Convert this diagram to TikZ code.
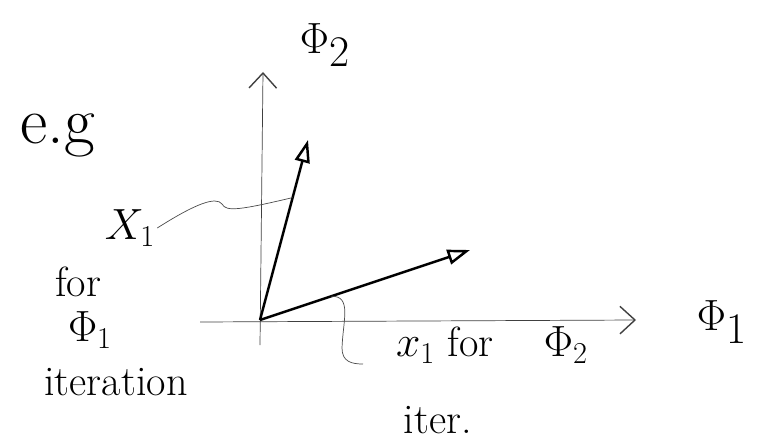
\documentclass[tikz,border=0pt]{standalone}
\usepackage{amsmath}
\usetikzlibrary{arrows.meta, positioning, calc}

\begin{document}
\begin{tikzpicture}[
    x=0.02cm, y=-0.02cm,
    axis/.style={black!75, thin, -{Straight Barb[length=3mm, width=5.5mm, line width=0.8pt]}},
    vec/.style={black, line width=1.4pt, -{Triangle[open, length=4.5mm, width=3mm, line width=1.4pt]}},
    lead/.style={black!70, thin},
    note/.style={font=\fontsize{24}{28}\selectfont, inner sep=1pt},
    axlabel/.style={font=\fontsize{36}{42}\selectfont, inner sep=1pt}
]
\useasboundingbox (0,0) rectangle (760,446);

% Origin and vector tips
\coordinate (O) at (260,320);
\coordinate (xend) at (200,322);
\coordinate (xtip) at (636,320);
\coordinate (yend) at (260,345);
\coordinate (ytip) at (263,72);
\coordinate (v1) at (308,140);
\coordinate (v2) at (470,250);

% Axes
\draw[axis] (xend) -- (xtip);
\draw[axis] (yend) -- (ytip);

% Axis labels
\node[axlabel] (phitwo) at (325,45) {$\Phi_2$};
\node[axlabel] (phione) at (722,322) {$\Phi_1$};

% Vectors
\draw[vec] (O) -- (v1);
\draw[vec] (O) -- (v2);

% Notes
\node[font=\fontsize{38}{44}\selectfont] (eg) at (58,135) {e.g};
\node[note] (xone) at (130,228) {$X_1$};
\node[note] (for) at (78,282) {for};
\node[note] (phiit) at (90,330) {$\Phi_1$};
\node[note] (iter) at (116,382) {iteration};
\node[note, anchor=west] (xtwo) at (394,345) {$x_1$ for\hspace{10mm}$\Phi_2$};
\node[note] (itertwo) at (438,420) {iter.};

% Leaders to the vectors
\coordinate (hit1) at ($(O)!0.68!(v1)$);
\coordinate (hit2) at ($(O)!0.34!(v2)$);
\coordinate (lead2end) at (363,364);
\draw[lead] (xone.east) .. controls (195,204) and (216,196) .. (222,204)
    .. controls (226,212) and (240,210) .. (hit1);
\draw[lead] (hit2) .. controls (352,296) and (343,320) .. (342,348)
    .. controls (342,362) and (352,364) .. (lead2end);

\end{tikzpicture}
\end{document}
